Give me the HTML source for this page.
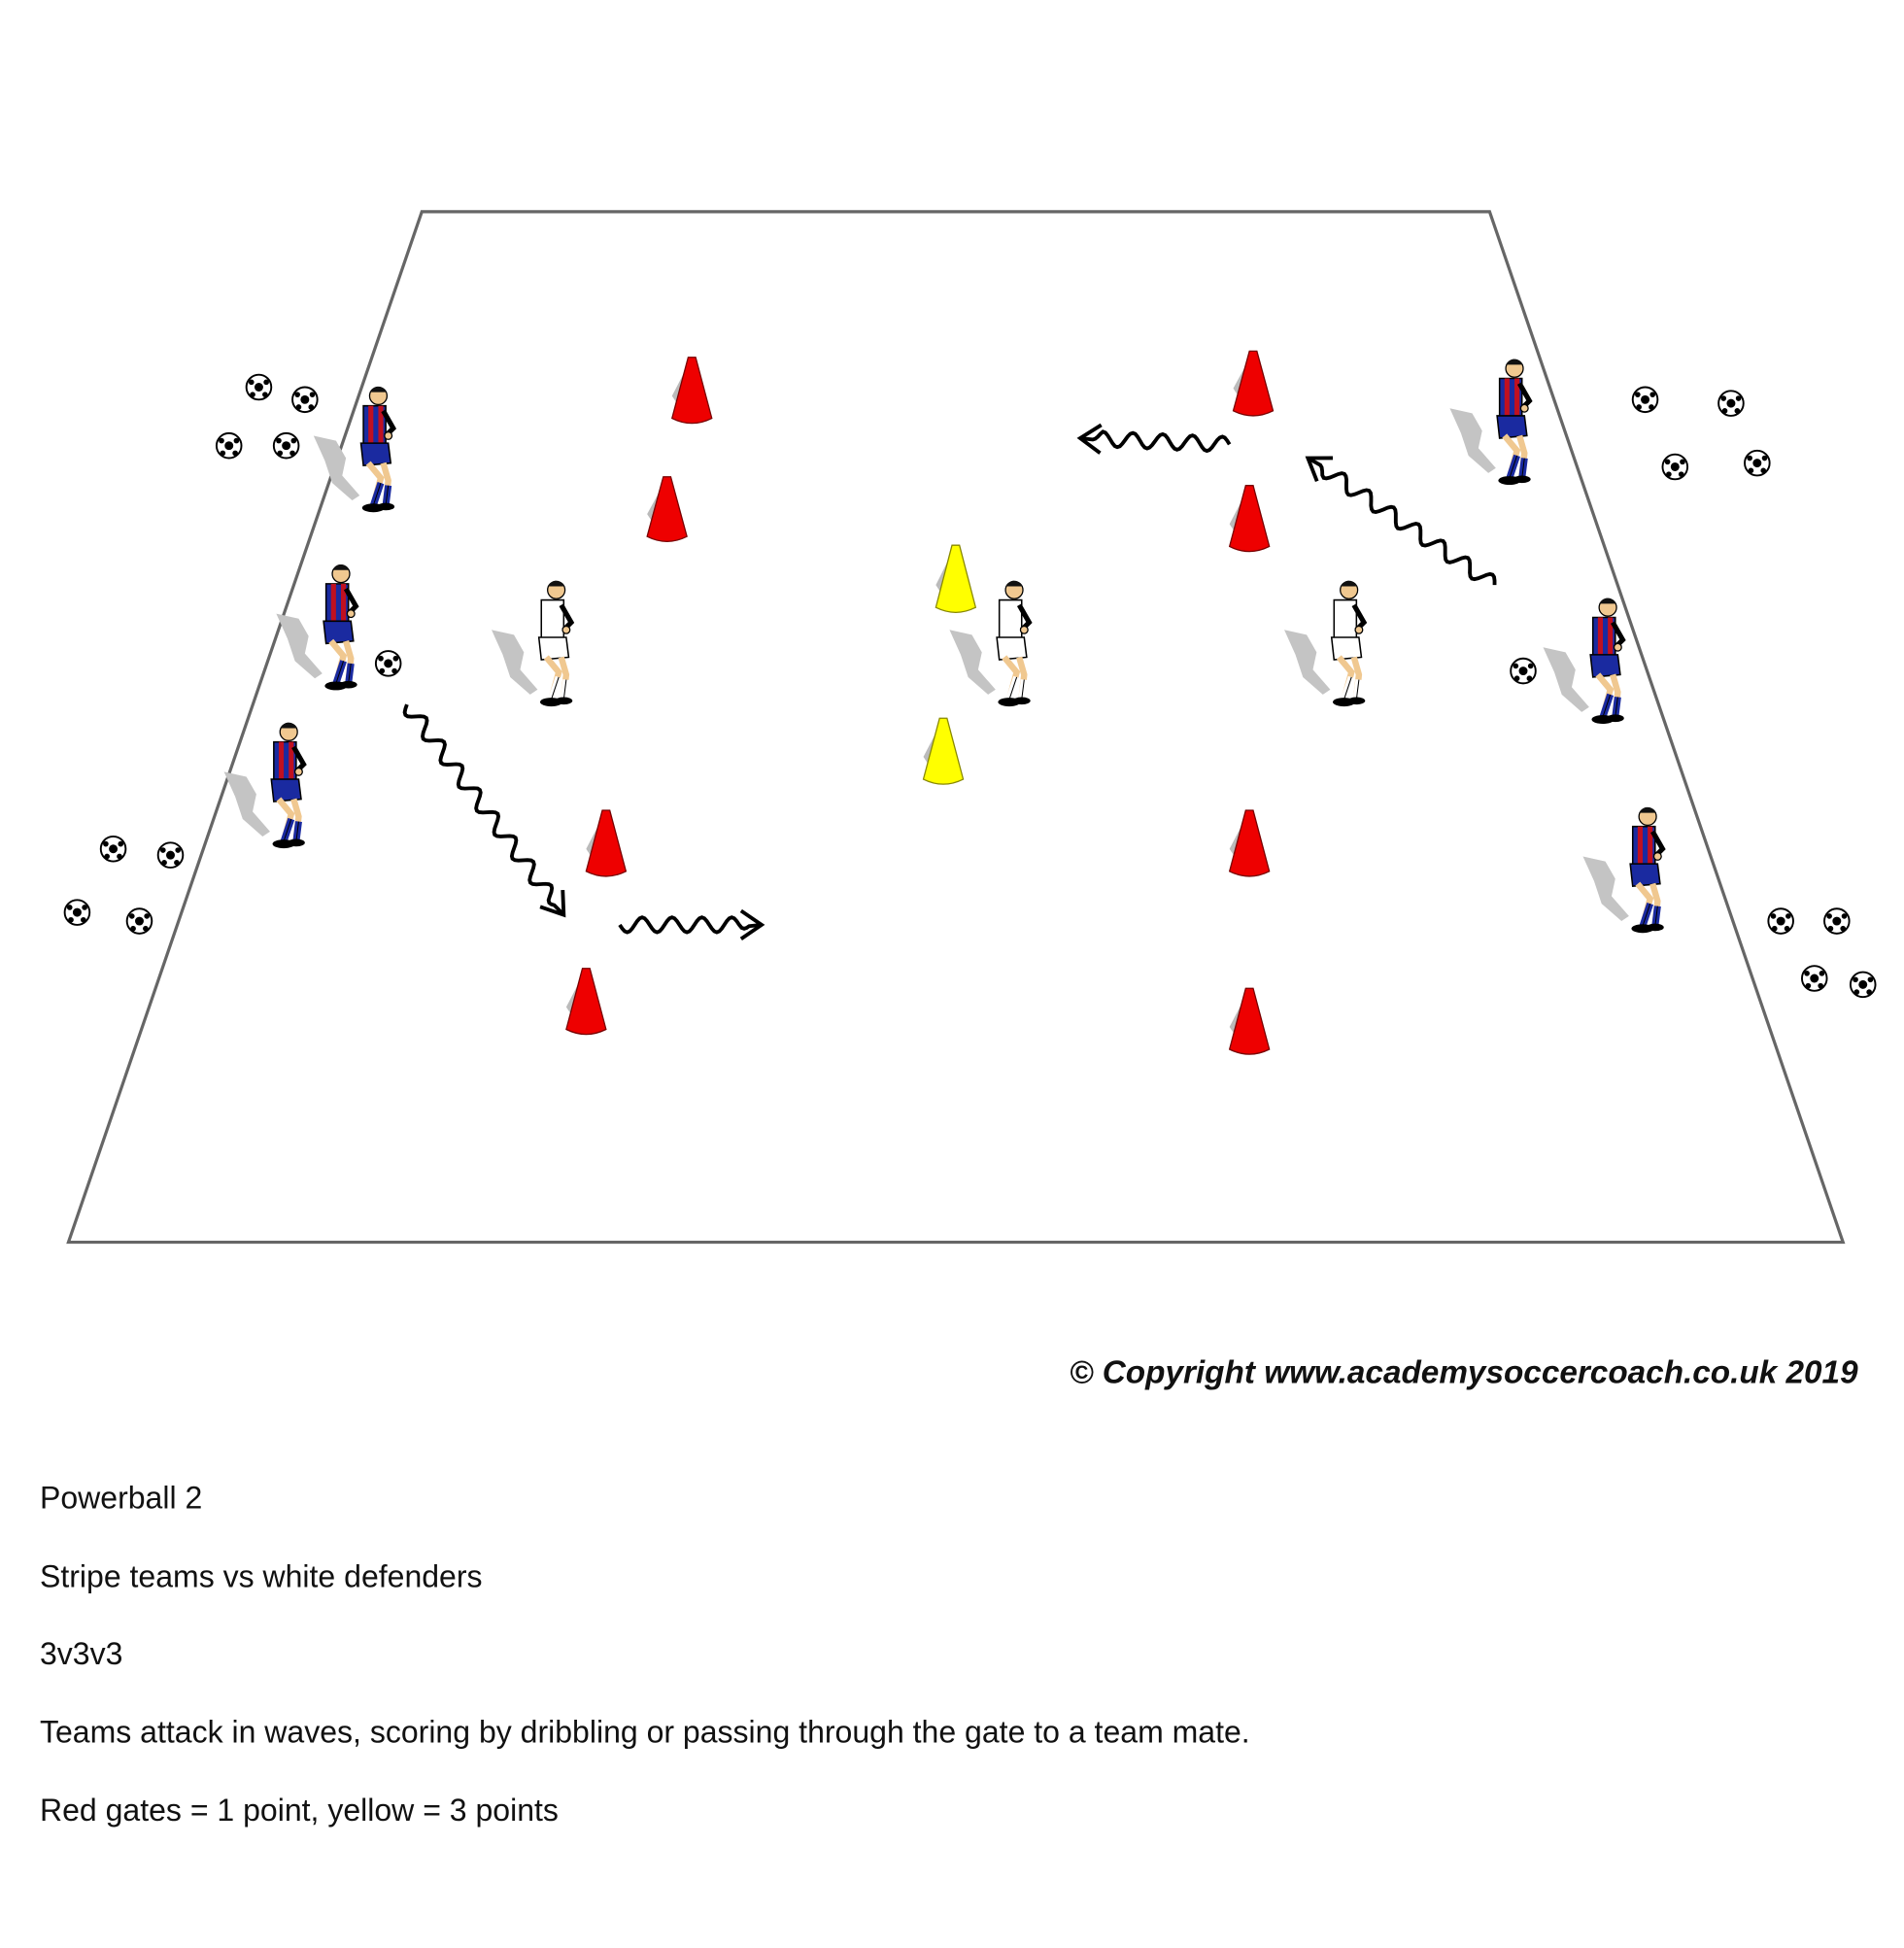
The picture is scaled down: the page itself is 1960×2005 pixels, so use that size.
<!DOCTYPE html>
<html><head><meta charset="utf-8"><style>
html,body{margin:0;padding:0;background:#fff;width:1960px;height:2005px;overflow:hidden}
svg{display:block}
</style></head><body>
<svg id="s" width="1960" height="2005" viewBox="0 0 1530 1565" xmlns="http://www.w3.org/2000/svg">
<polygon points="339,170 1197,170 1481,998 55,998" fill="#fff" stroke="#666" stroke-width="2.5"/>
<g id="g"></g>
<text x="1493" y="1111" text-anchor="end" font-family="Liberation Sans, sans-serif" font-size="26" font-weight="bold" font-style="italic" fill="#111">© Copyright www.academysoccercoach.co.uk 2019</text>
<g font-family="Liberation Sans, sans-serif" font-size="25" fill="#111">
<text x="32" y="1212">Powerball 2</text>
<text x="32" y="1275">Stripe teams vs white defenders</text>
<text x="32" y="1337">3v3v3</text>
<text x="32" y="1400">Teams attack in waves, scoring by dribbling or passing through the gate to a team mate.</text>
<text x="32" y="1463">Red gates = 1 point, yellow = 3 points</text>
</g>
</svg>
<script>
var g=document.getElementById('g'),h='';
function cone(x,t,b,c,d){h+='<polygon points="'+(x-16)+','+(b-22)+' '+(x-4)+','+(t+8)+' '+(x-4)+','+(b-4)+'" fill="#bbb"/>';
h+='<path d="M'+(x-3)+','+t+' L'+(x+3)+','+t+' L'+(x+16)+','+(b-4)+' Q'+x+','+(b+4)+' '+(x-16)+','+(b-4)+' Z" fill="'+c+'" stroke="'+d+'" stroke-width="1"/>';}
[[556,287,340],[536,383,435],[487,651,704],[471,778,831],[1007,282,334],[1004,390,443],[1004,651,704],[1004,794,847]].forEach(function(a){cone(a[0],a[1],a[2],'#e00','#700')});
[[768,438,492],[758,577,630]].forEach(function(a){cone(a[0],a[1],a[2],'#ff0','#880')});
function ball(x,y){h+='<circle cx="'+x+'" cy="'+y+'" r="10" fill="#fff" stroke="#000" stroke-width="1.5"/><circle cx="'+x+'" cy="'+y+'" r="3.5"/><circle cx="'+(x-6)+'" cy="'+(y-4)+'" r="2.2"/><circle cx="'+(x+6)+'" cy="'+(y-4)+'" r="2.2"/><circle cx="'+(x-5)+'" cy="'+(y+6)+'" r="2.2"/><circle cx="'+(x+5)+'" cy="'+(y+6)+'" r="2.2"/>';}
[[208,311],[245,321],[184,358],[230,358],[91,682],[137,687],[62,733],[112,740],[312,533],[1322,321],[1391,324],[1346,375],[1412,372],[1224,539],[1431,740],[1476,740],[1458,786],[1497,791]].forEach(function(a){ball(a[0],a[1])});
function player(x,t,stripe){var s='';
s+='<path d="M'+(x-48)+','+(t+40)+' l18,4 l8,14 l-3,14 l14,16 l-6,4 l-16,-14 l-6,-18 z" fill="#c4c4c4"/>';
var shirt=stripe?'#1a2aa0':'#fff',sh=stripe?'#1a2aa0':'#fff',sock=stripe?'#1a2aa0':'#fff';
s+='<circle cx="'+(x+4)+'" cy="'+(t+8)+'" r="7" fill="#f0c890" stroke="#000"/><path d="M'+(x-3)+','+(t+5)+' q6,-9 14,0 z" fill="#111"/>';
s+='<path d="M'+(x-8)+','+(t+16)+' L'+(x+10)+','+(t+16)+' L'+(x+10)+','+(t+48)+' L'+(x-8)+','+(t+48)+' Z" fill="'+shirt+'" stroke="#000" stroke-width="1.2"/>';
if(stripe){s+='<rect x="'+(x-4)+'" y="'+(t+16)+'" width="4" height="32" fill="#c01020"/><rect x="'+(x+4)+'" y="'+(t+16)+'" width="4" height="32" fill="#c01020"/>';}
s+='<path d="M'+(x+8)+','+(t+20)+' l8,14 l-6,6" fill="none" stroke="#000" stroke-width="4"/><circle cx="'+(x+12)+'" cy="'+(t+40)+'" r="3" fill="#f0c890" stroke="#000"/>';
s+='<path d="M'+(x-10)+','+(t+46)+' L'+(x+12)+','+(t+46)+' L'+(x+14)+','+(t+62)+' L'+(x-8)+','+(t+64)+' Z" fill="'+sh+'" stroke="#000" stroke-width="1.2"/>';
s+='<path d="M'+(x-4)+','+(t+62)+' l10,12 l-6,22 M'+(x+8)+','+(t+62)+' l4,14 l-2,18" fill="none" stroke="#f0c890" stroke-width="5"/>';
s+='<path d="M'+(x+6)+','+(t+78)+' l-6,18 M'+(x+12)+','+(t+80)+' l-2,16" stroke="'+sock+'" stroke-width="5.5"/>';
s+='<path d="M'+(x+6)+','+(t+78)+' l-6,18 M'+(x+12)+','+(t+80)+' l-2,16" stroke="#000" stroke-width="0.8" fill="none"/>';
s+='<ellipse cx="'+(x)+'" cy="'+(t+98)+'" rx="9" ry="3.5"/><ellipse cx="'+(x+10)+'" cy="'+(t+97)+'" rx="7" ry="3"/>';
h+=s;}
[[302,310],[272,453],[230,580],[1215,288],[1290,480],[1322,648]].forEach(function(a){player(a[0]-2,a[1],1)});
[[445,466],[813,466],[1082,466]].forEach(function(a){player(a[0]-2,a[1],0)});
function wave(x1,y1,x2,y2,amp,wl){var dx=x2-x1,dy=y2-y1,L=Math.hypot(dx,dy),ux=dx/L,uy=dy/L,nx=-uy,ny=ux,d='';var end=L-10;
for(var i=0;i<=end;i+=2){var w=Math.sin(i/wl*2*Math.PI)*amp*Math.min(1,(end-i)/10+0.2);d+=(i?'L':'M')+(x1+ux*i+nx*w).toFixed(1)+','+(y1+uy*i+ny*w).toFixed(1);}
d+='L'+x2+','+y2;
h+='<path d="'+d+'" fill="none" stroke="#000" stroke-width="3"/>';
var a=0.6,hl=20;var bx=-ux,by=-uy;
function r(t){return [(bx*Math.cos(t)-by*Math.sin(t))*hl,(bx*Math.sin(t)+by*Math.cos(t))*hl];}
var p=r(a),q=r(-a);
h+='<path d="M'+(x2+p[0])+','+(y2+p[1])+' L'+x2+','+y2+' L'+(x2+q[0])+','+(y2+q[1])+'" fill="none" stroke="#000" stroke-width="3"/>';}
wave(327,566,453,735,6,24);wave(498,743,612,743,6,24);wave(988,357,868,352,6,24);wave(1201,470,1051,368,6,24);
g.innerHTML=h;
</script>
</body></html>
